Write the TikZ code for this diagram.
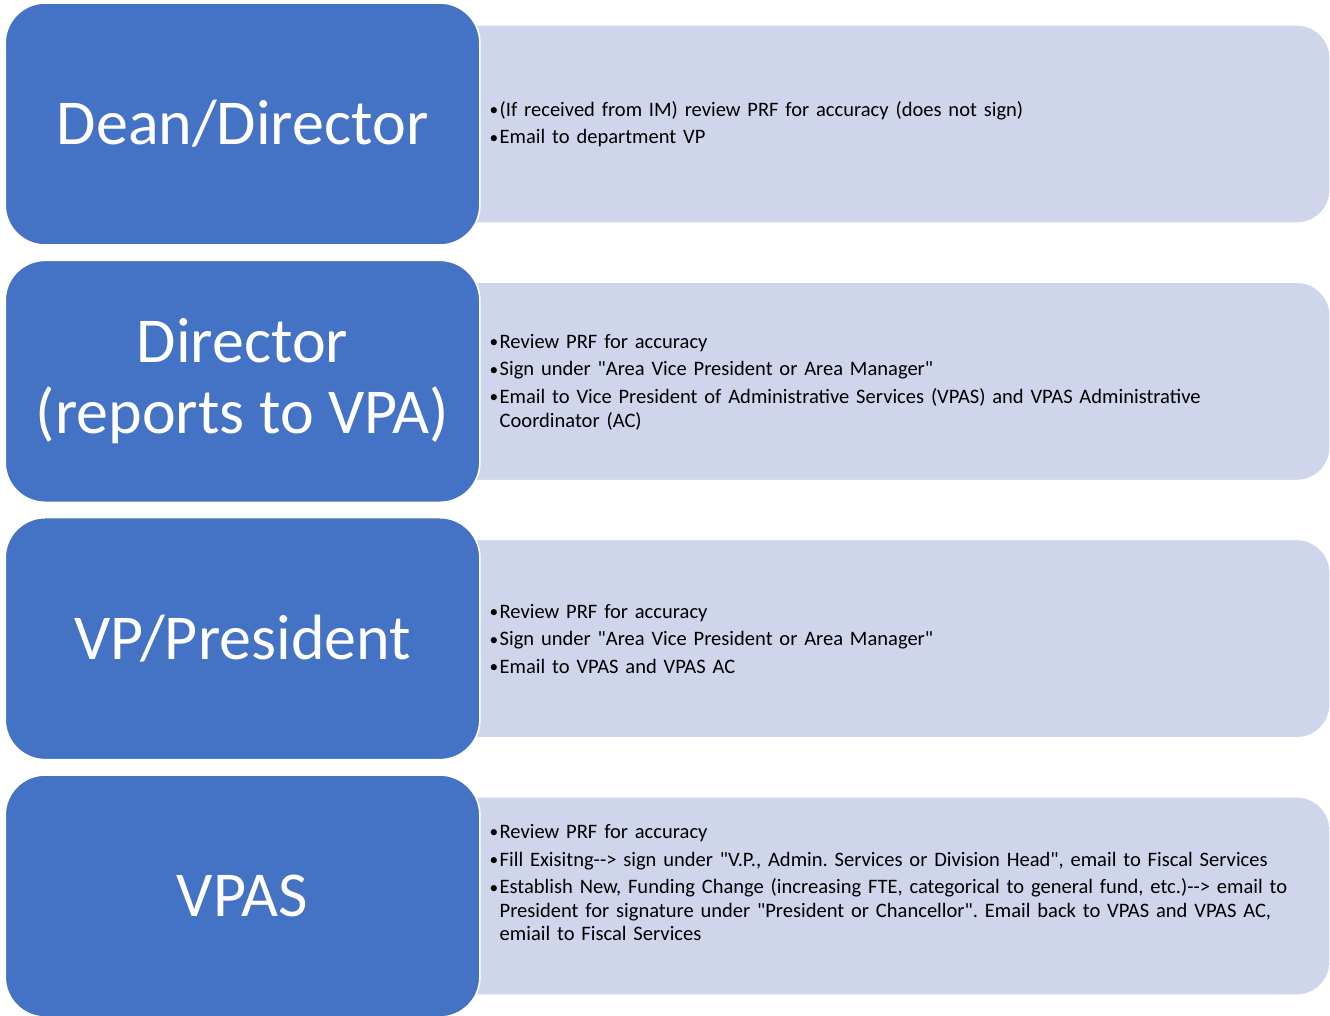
\documentclass[tikz,border=0pt]{standalone}
\usepackage{fontspec}
\setmainfont{Carlito}[Ligatures=TeXOff]
\definecolor{roleblue}{HTML}{4472C4}
\definecolor{notefill}{HTML}{CFD5EA}
\newcommand{\itm}[1]{\par\setlength{\parskip}{3pt}\hangindent=8.2pt\hangafter=1\noindent
  \makebox[8.2pt][l]{\hspace{0.6pt}\raisebox{0.5pt}{\fontsize{13}{13}\selectfont•}}#1\par}

\begin{document}
\begin{tikzpicture}[
  x=1pt,y=1pt,
  rolebox/.style={draw=white,line width=1.2pt,fill=roleblue,rounded corners=30pt,
    minimum width=356pt,minimum height=181.5pt,inner sep=0pt,
    text=white,align=center,font=\fontsize{48}{53.5}\selectfont},
  notebox/.style={draw=white,line width=0.8pt,fill=notefill,rounded corners=25pt,
    minimum width=667.5pt,minimum height=148.5pt,inner sep=0pt},
  notetext/.style={anchor=west,text width=625pt,align=left,inner sep=0pt,
    font=\frenchspacing\fontsize{15.4}{17.7}\selectfont}
  ]
  \useasboundingbox (0,0) rectangle (997.5,-761.25);

  \foreach \i/\title in {0/{Dean/Director},1/{Director\\(reports to VPA)},2/{VP/President},3/{VPAS}} {
    \node[notebox] (note\i) at (663.75,{-93-193*\i}) {};
    \node[rolebox] (role\i) at (181.9,{-93-193*\i}) {\title};
  }

  \node[notetext] (list0) at ([xshift=36.75pt,yshift=4.5pt]note0.west) {%
    \itm{(If received from IM) review PRF for accuracy (does not sign)}
    \itm{Email to department VP}};
  \node[notetext] (list1) at ([xshift=36.75pt,yshift=4.5pt]note1.west) {%
    \itm{Review PRF for accuracy}
    \itm{Sign under "Area Vice President or Area Manager"}
    \itm{Email to Vice President of Administrative Services (VPAS) and VPAS Administrative\newline Coordinator (AC)}};
  \node[notetext] (list2) at ([xshift=36.75pt,yshift=5pt]note2.west) {%
    \itm{Review PRF for accuracy}
    \itm{Sign under "Area Vice President or Area Manager"}
    \itm{Email to VPAS and VPAS AC}};
  \node[notetext] (list3) at ([xshift=36.75pt,yshift=15pt]note3.west) {%
    \itm{Review PRF for accuracy}
    \itm{Fill Exisitng--> sign under "V.P., Admin. Services or Division Head", email to Fiscal Services}
    \itm{Establish New, Funding Change (increasing FTE, categorical to general fund, etc.)--> email to\newline President for signature under "President or Chancellor". Email back to VPAS and VPAS AC,\newline emiail to Fiscal Services}};
\end{tikzpicture}
\end{document}
